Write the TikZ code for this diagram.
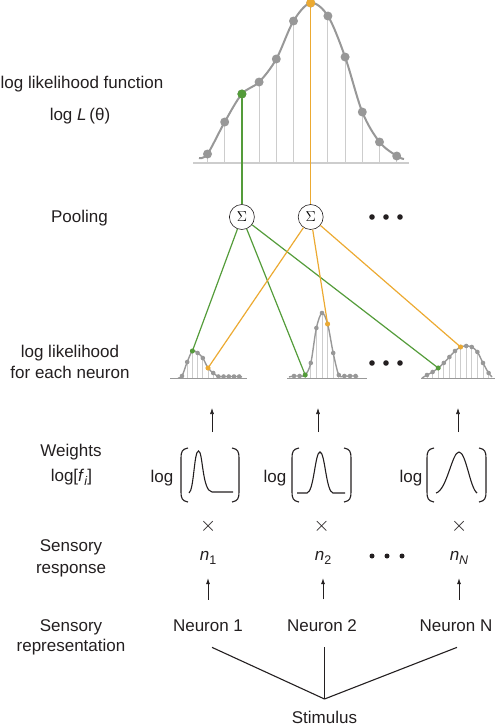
\documentclass[tikz,border=0pt]{standalone}
\usepackage{fontspec}
\setmainfont{Liberation Sans}
\usetikzlibrary{arrows.meta}

\definecolor{likgreen}{RGB}{84,156,58}
\definecolor{likorange}{RGB}{236,170,50}
\definecolor{dotgray}{RGB}{152,152,152}
\definecolor{stemgray}{RGB}{205,205,205}
\definecolor{inkgray}{RGB}{35,31,32}

\newcommand{\lowsub}[1]{\raisebox{-0.45ex}{\fontsize{12.5}{12.5}\selectfont#1}}

\tikzset{
  lbl/.style={anchor=base, inner sep=0pt, text=inkgray, font=\fontsize{17}{20}\selectfont},
  timesnode/.style={inner sep=0pt, text=inkgray, font=\fontsize{21}{21}\selectfont},
  sumnode/.style={circle, draw=inkgray, line width=0.6pt, minimum size=25pt, inner sep=0pt, fill=white, font=\fontsize{14}{14}\selectfont},
  stem/.style={stemgray, line width=1pt},
  curve/.style={dotgray, line width=1.4pt},
  uparr/.style={-{Latex[length=6pt,width=4pt]}, line width=0.6pt, inkgray},
  ink/.style={inkgray, line width=1.1pt},
}

\begin{document}
\begin{tikzpicture}[x=1pt, y=-1pt]
    \useasboundingbox (0,0) rectangle (500,728);

    % Labels on the left
    \node[lbl] (llf) at (82,88.3) {log likelihood function};
    \node[lbl] (logL) at (80,120) {log \textit{L}\,(θ)};
    \node[lbl] (pool) at (79.5,222.3) {Pooling};
    \node[lbl] (lleach) at (70,357) {log likelihood};
    \node[lbl] (foreach) at (70,378.3) {for each neuron};
    \node[lbl] (wts) at (71,456) {Weights};
    \node[lbl] (logf) at (71.5,481.7) {log[\textit{f}\lowsub{\textit{i}}]};
    \node[lbl] (sens1) at (71,551.7) {Sensory};
    \node[lbl] (resp) at (71,573) {response};
    \node[lbl] (sens2) at (71,631.5) {Sensory};
    \node[lbl] (repr) at (71,651.7) {representation};

    % Total log likelihood
    \draw[stemgray, line width=1.5pt] (193,163) -- (409,163);
    \foreach \h [count=\i from 0] in {9,41,69,81,104,142,160,147,106,51,21,7}
        \draw[stem] (207.5+17.2*\i,163) -- ++(0,-\h);
    \draw[curve, line width=2pt] plot[smooth, tension=0.55] coordinates {(199,158) (207.5,154) (224.7,122) (241.9,94) (259.1,82) (276.3,59) (293.5,21) (310.7,3) (327.9,16) (345.1,57) (362.3,112) (379.5,142) (396.7,156) (404,159)};
    \coordinate (top-g) at (241.9,94);
    \coordinate (top-o) at (310.7,3);

    % Pooling
    \node[sumnode] (sum1) at (241.9,217) {$\Sigma$};
    \node[sumnode] (sum2) at (310.7,217) {$\Sigma$};
    \draw[likgreen, line width=1.2pt] (top-g) -- (sum1);
    \draw[likorange, line width=1.2pt] (top-o) -- (sum2);
    \foreach \h [count=\i from 0] in {9,41,69,81,104,142,160,147,106,51,21,7}
        \fill[dotgray] (207.5+17.2*\i,163-\h) circle (4.5);
    \fill[likgreen] (top-g) circle (4.5);
    \fill[likorange] (top-o) circle (4.5);
    \foreach \x in {372,386,400}
        \fill[inkgray] (\x,217) circle (2.8);

    % Log likelihood of each neuron
    \foreach \a/\b in {170/247, 287/367, 421/495}
        \draw[dotgray, line width=1.2pt] (\a,378.5) -- (\b,378.5);
    \foreach \h [count=\i from 0] in {2,16,27,25,20,10,5,1.5,1.5,1.5,1.5,1.5}
        \draw[stem, line width=0.8pt] (182+5.2*\i,378) -- ++(0,-\h);
    \foreach \h [count=\i from 0] in {2,2,3,15,50,65,54,25,3,2,2,2}
        \draw[stem, line width=0.8pt] (294+5.6*\i,378) -- ++(0,-\h);
    \foreach \h [count=\i from 0] in {3,6,10,15,21,27,31,32,31,26,15,5}
        \draw[stem, line width=0.8pt] (427+5.6*\i,378) -- ++(0,-\h);
    \draw[curve] plot[smooth, tension=0.55] coordinates {(178,378) (182,376) (187.2,362) (192.4,351) (197.6,353) (202.8,358) (208,368) (213.2,373) (218.4,376.5) (223.6,376.5) (228.8,376.5) (234,376.5) (239.2,376.5) (242,377)};
    \draw[curve] plot[smooth, tension=0.55] coordinates {(289,377) (294,376) (299.6,376) (305.2,375) (310.8,363) (316.4,328) (322,313) (327.6,324) (333.2,353) (338.8,375) (344.4,376) (350,376) (355.6,376) (358,377)};
    \draw[curve] plot[smooth, tension=0.55] coordinates {(422,378) (427,375) (432.6,372) (438.2,368) (443.8,363) (449.4,357) (455,351) (460.6,347) (466.2,346) (471.8,347) (477.4,352) (483,363) (488.6,373) (492,377)};
    \foreach \h [count=\i from 0] in {2,16,27,25,20,10,5,1.5,1.5,1.5,1.5,1.5}
        \fill[dotgray] (182+5.2*\i,378-\h) circle (2.3);
    \foreach \h [count=\i from 0] in {2,2,3,15,50,65,54,25,3,2,2,2}
        \fill[dotgray] (294+5.6*\i,378-\h) circle (2.3);
    \foreach \h [count=\i from 0] in {3,6,10,15,21,27,31,32,31,26,15,5}
        \fill[dotgray] (427+5.6*\i,378-\h) circle (2.3);
    \coordinate (p1-g) at (192.4,351);
    \coordinate (p1-o) at (208,368);
    \coordinate (p2-g) at (305.2,375);
    \coordinate (p2-o) at (327.6,324);
    \coordinate (p3-g) at (438.2,368);
    \coordinate (p3-o) at (460.6,347);
    \foreach \x in {372,386,400}
        \fill[inkgray] (\x,363) circle (2.8);

    % Pooling connections
    \draw[likgreen, line width=1.2pt] (sum1) -- (p1-g);
    \draw[likgreen, line width=1.2pt] (sum1) -- (p2-g);
    \draw[likgreen, line width=1.2pt] (sum1) -- (p3-g);
    \draw[likorange, line width=1.2pt] (sum2) -- (p1-o);
    \draw[likorange, line width=1.2pt] (sum2) -- (p2-o);
    \draw[likorange, line width=1.2pt] (sum2) -- (p3-o);
    \foreach \p in {p1-g,p2-g,p3-g}
        \fill[likgreen] (\p) circle (2.5);
    \foreach \p in {p1-o,p2-o,p3-o}
        \fill[likorange] (\p) circle (2.5);

    % Arrows into the log likelihoods
    \foreach \k/\x in {1/212, 2/318, 3/458} {
        \coordinate (w\k-top) at (\x,432);
        \coordinate (l\k-bot) at (\x,408);
        \draw[uparr] (w\k-top) -- (l\k-bot);
    }

    % Weights
    \node[lbl] (log1) at (162,482) {log};
    \node[lbl] (log2) at (275,482) {log};
    \node[lbl] (log3) at (411,482) {log};
    \foreach \l/\r in {181/239, 292/351, 427/486} {
        \draw[ink] (\l+7,448) .. controls (\l+1,449) and (\l,452) .. (\l,458) -- (\l,492) .. controls (\l,498) and (\l+1,501) .. (\l+7,502);
        \draw[ink] (\r-7,448) .. controls (\r-1,449) and (\r,452) .. (\r,458) -- (\r,492) .. controls (\r,498) and (\r-1,501) .. (\r-7,502);
    }
    \draw[ink] (189,493) .. controls (194,490) and (194,451) .. (198.5,451) .. controls (203,451) and (202,491) .. (212,492) -- (233,492);
    \draw[ink] (297,493) -- (307,493) .. controls (314,492) and (315,452) .. (320,452) .. controls (325,452) and (326,492) .. (333,493) -- (345,493);
    \draw[ink] (436,493) .. controls (447,490) and (452,452) .. (459,452) .. controls (466,452) and (470,488) .. (477,493);

    % Sensory responses
    \node[timesnode] (x1) at (208.3,526.7) {$\times$};
    \node[timesnode] (x2) at (321.7,526.7) {$\times$};
    \node[timesnode] (x3) at (459.3,526.7) {$\times$};
    \node[lbl] (n1) at (208,560) {\textit{n}\lowsub{1}};
    \node[lbl] (n2) at (323,560) {\textit{n}\lowsub{2}};
    \node[lbl] (nN) at (459,560) {\textit{n}\lowsub{\textit{N}}};
    \foreach \x in {372,387,402}
        \fill[inkgray] (\x,556) circle (2.5);

    % Sensory representation
    \node[lbl] (neuron1) at (208,631.5) {Neuron 1};
    \node[lbl] (neuron2) at (322,631.5) {Neuron 2};
    \node[lbl] (neuronN) at (456,631.5) {Neuron N};
    \draw[uparr, shorten <=20pt, shorten >=14pt] (neuron1.north -| n1) -- (n1.south);
    \draw[uparr, shorten <=20pt, shorten >=14pt] (neuron2.north -| n2) -- (n2.south);
    \draw[uparr, shorten <=20pt, shorten >=14pt] (neuronN.north -| nN) -- (nN.south);

    % Stimulus
    \node[lbl] (stim) at (324.5,723.3) {Stimulus};
    \coordinate (hub) at (324.5,699);
    \draw[ink] ([shift={(4,15.5)}]neuron1.south) -- (hub);
    \draw[ink] ([shift={(2.5,15.5)}]neuron2.south) -- (hub);
    \draw[ink] ([shift={(1,15.5)}]neuronN.south) -- (hub);
\end{tikzpicture}
\end{document}
